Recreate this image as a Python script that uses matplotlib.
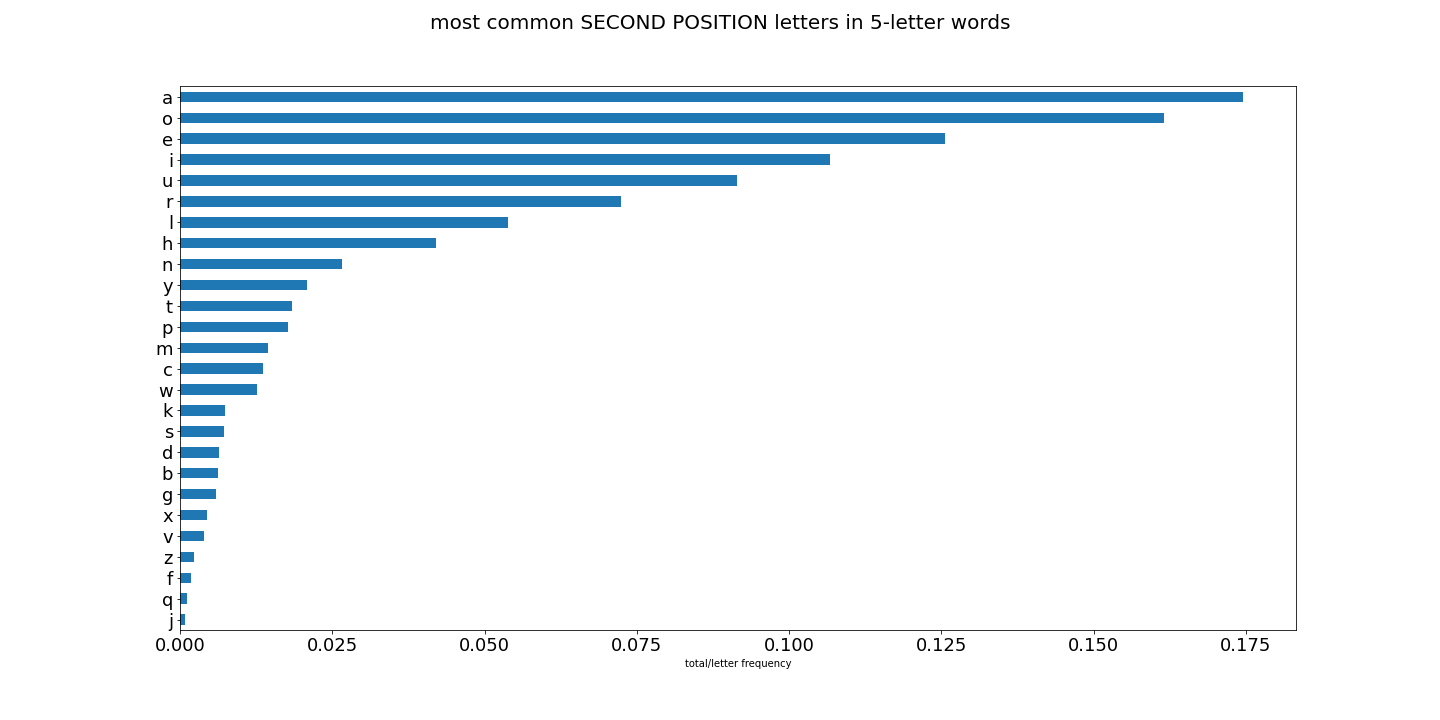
import matplotlib
matplotlib.use("Agg")
import matplotlib.pyplot as plt
import numpy as np

# letters listed top to bottom as they appear in the chart
letters = ["a", "o", "e", "i", "u", "r", "l", "h", "n", "y", "t", "p", "m",
           "c", "w", "k", "s", "d", "b", "g", "x", "v", "z", "f", "q", "j"]
freq = [0.1745, 0.1615, 0.1256, 0.1067, 0.0914, 0.0724, 0.0538, 0.0420,
        0.0266, 0.0208, 0.0184, 0.0177, 0.0144, 0.0136, 0.0126, 0.0074,
        0.0072, 0.0064, 0.0062, 0.0059, 0.0044, 0.0039, 0.0023, 0.0018,
        0.0011, 0.0008]

fig = plt.figure(figsize=(20, 10), dpi=72)
ax = fig.add_axes([0.125, 0.125, 0.775, 0.755])

n = len(letters)
ypos = np.arange(n)[::-1]
ax.barh(ypos, freq, height=0.5, color="#1f77b4")
ax.set_yticks(ypos)
ax.set_yticklabels(letters)
ax.set_ylim(-0.5, n - 0.5)
ax.set_xlim(0, max(freq) * 1.05)
ax.set_xticks([0.0, 0.025, 0.05, 0.075, 0.1, 0.125, 0.15, 0.175])
ax.set_xticklabels([f"{v:.3f}" for v in ax.get_xticks()])
ax.tick_params(axis="both", labelsize=18)
ax.set_xlabel("total/letter frequency", fontsize=10)

fig.suptitle("most common SECOND POSITION letters in 5-letter words", fontsize=20)

fig.savefig("out.png", dpi=72)
